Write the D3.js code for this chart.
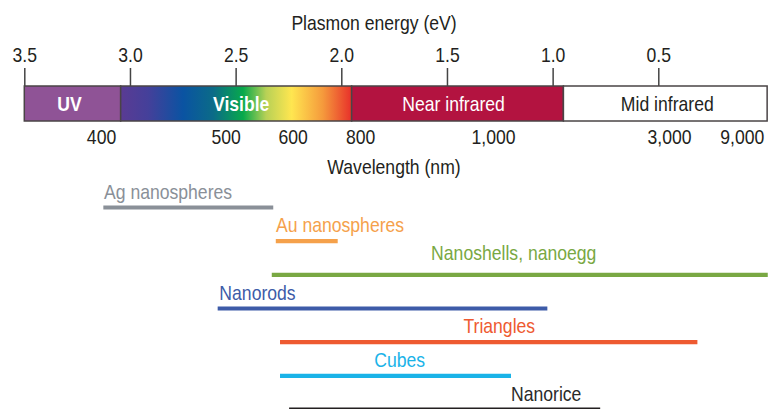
<!DOCTYPE html>
<html>
<head>
<meta charset="utf-8">
<script src="https://cdn.jsdelivr.net/npm/d3@7"></script>
<style>
  html, body { margin: 0; padding: 0; background: #fff; }
  svg { display: block; }
  svg text { font-family: "Liberation Sans", Arial, sans-serif; }
</style>
</head>
<body>
<svg id="chart" width="769" height="409"></svg>
<script>
// ---- data ----
const energyTicks = [3.5, 3.0, 2.5, 2.0, 1.5, 1.0, 0.5];
const energyTickLabels = ["3.5", "3.0", "2.5", "2.0", "1.5", "1.0", "0.5"];

const wavelengthLabels = ["400", "500", "600", "800", "1,000", "3,000", "9,000"];
const wavelengthAtEV   = [3.137, 2.547, 2.230, 1.911, 1.282, 0.449, 0.105];

const regionNames = ["UV", "Visible", "Near infrared", "Mid infrared"];
const regionStartEV = [3.5, 3.044, 1.951, 0.949];
const regionEndEV   = [3.044, 1.951, 0.949, -0.015];

const particleNames   = ["Ag nanospheres", "Au nanospheres", "Nanoshells, nanoegg", "Nanorods", "Triangles", "Cubes", "Nanorice"];
const particleStartEV = [3.126, 2.310, 2.329, 2.585, 2.290, 2.290, 2.247];
const particleEndEV   = [2.322, 2.017, -0.018, 1.025, 0.315, 1.197, 0.775];
const particleLabelEV = [3.123, 2.309, 1.575, 2.577, 1.422, 1.844, 1.197];

// ---- styles ----
const regionFill = {"UV": "#8f5396", "Near infrared": "#b31340", "Mid infrared": "#ffffff"};
const regionText = {"UV": "#ffffff", "Visible": "#ffffff", "Near infrared": "#ffffff", "Mid infrared": "#231f20"};
const visibleStops = [
  [0.00, "#5a3b93"], [0.12, "#44409a"], [0.27, "#0a53a2"], [0.40, "#0b6b88"],
  [0.53, "#07a94b"], [0.63, "#b8d156"], [0.74, "#ffe650"], [0.875, "#f59a3c"], [1.00, "#e8302a"]
];
const particleColor = {
  "Ag nanospheres": "#8a9098", "Au nanospheres": "#f5a14b", "Nanoshells, nanoegg": "#79a843",
  "Nanorods": "#3d5ba8", "Triangles": "#ee5a31", "Cubes": "#1ab3e8", "Nanorice": "#231f20"
};
const labelLift = {"Nanoshells, nanoegg": 15};

// ---- layout ----
const svg = d3.select("#chart");
const x = d3.scaleLinear().domain([3.5, 0.5]).range([24.3, 658.3]);
const barTop = 86, barH = 35;
const textColor = "#231f20";
const fs = 20;
const sx = 0.88; // condensed look
const place = (px, py) => `translate(${px},${py}) scale(${sx},1)`;

// gradient
const defs = svg.append("defs");
const grad = defs.append("linearGradient").attr("id", "visGrad")
  .attr("x1", "0%").attr("x2", "100%").attr("y1", "0%").attr("y2", "0%");
grad.selectAll("stop").data(visibleStops).join("stop")
  .attr("offset", d => d[0]).attr("stop-color", d => d[1]);

// title
svg.append("text").attr("transform", place(374, 30)).attr("text-anchor", "middle")
  .attr("font-size", fs).attr("fill", textColor).text("Plasmon energy (eV)");

// top axis
const axisTop = d3.axisTop(x).tickValues(energyTicks)
  .tickFormat((d, i) => energyTickLabels[i]).tickSize(18).tickSizeOuter(0).tickPadding(6);
const gTop = svg.append("g").attr("transform", `translate(0,${barTop})`).call(axisTop);
gTop.select(".domain").remove();
gTop.selectAll(".tick line").attr("stroke", "#444").attr("stroke-width", 1.5);
gTop.selectAll(".tick text").attr("font-size", fs).attr("fill", textColor)
  .attr("font-family", "Liberation Sans, Arial, sans-serif").attr("transform", `scale(${sx},1)`);

// regions
const regions = regionNames.map((n, i) => ({name: n, s: regionStartEV[i], e: regionEndEV[i]}));
const gReg = svg.append("g");
gReg.selectAll("rect").data(regions).join("rect")
  .attr("x", d => x(d.s)).attr("y", barTop)
  .attr("width", d => x(d.e) - x(d.s)).attr("height", barH)
  .attr("fill", d => d.name === "Visible" ? "url(#visGrad)" : regionFill[d.name])
  .attr("stroke", "#4a4446").attr("stroke-width", 1.5);
const regionNudge = {"UV": -3, "Visible": 5, "Near infrared": -4, "Mid infrared": 2};
gReg.selectAll("text").data(regions).join("text")
  .attr("transform", d => place((x(d.s) + x(d.e)) / 2 + regionNudge[d.name], barTop + barH / 2 + 7))
  .attr("text-anchor", "middle").attr("font-size", fs)
  .attr("font-weight", d => (d.name === "UV" || d.name === "Visible") ? "bold" : "normal")
  .attr("fill", d => regionText[d.name]).text(d => d.name);

// bottom wavelength labels
const axisBottom = d3.axisBottom(x).tickValues(wavelengthAtEV)
  .tickFormat((d, i) => wavelengthLabels[i]).tickSize(0).tickPadding(9);
const gBot = svg.append("g").attr("transform", `translate(0,${barTop + barH})`).call(axisBottom);
gBot.select(".domain").remove();
gBot.selectAll(".tick text").attr("font-size", fs).attr("fill", textColor)
  .attr("font-family", "Liberation Sans, Arial, sans-serif").attr("transform", `scale(${sx},1)`);

svg.append("text").attr("transform", place(394, 174)).attr("text-anchor", "middle")
  .attr("font-size", fs).attr("fill", textColor).text("Wavelength (nm)");

// particle ranges
const y = d3.scalePoint().domain(particleNames).range([207.5, 409.5]);
const parts = particleNames.map((n, i) => ({name: n, s: particleStartEV[i], e: particleEndEV[i], l: particleLabelEV[i]}));
const gP = svg.append("g");
gP.selectAll("line").data(parts).join("line")
  .attr("x1", d => x(d.s)).attr("x2", d => x(d.e))
  .attr("y1", d => y(d.name)).attr("y2", d => y(d.name))
  .attr("stroke", d => particleColor[d.name]).attr("stroke-width", 4.2);
gP.selectAll("text").data(parts).join("text")
  .attr("transform", d => place(x(d.l), y(d.name) - (labelLift[d.name] || 9)))
  .attr("font-size", fs).attr("fill", d => particleColor[d.name] === "#231f20" ? "#2a2a2a" : particleColor[d.name])
  .text(d => d.name);
</script>
</body>
</html>
